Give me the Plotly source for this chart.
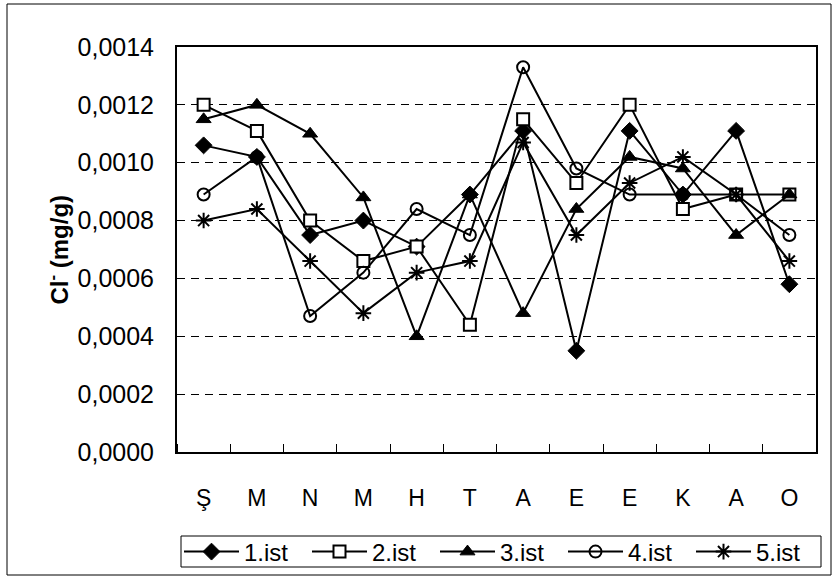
import plotly.graph_objects as go

months = ["Ş", "M", "N", "M", "H", "T", "A", "E", "E", "K", "A", "O"]
ist1 = [0.00106, 0.00102, 0.00075, 0.00080, 0.00071, 0.00089, 0.00111, 0.00035, 0.00111, 0.00089, 0.00111, 0.00058]
ist2 = [0.00120, 0.00111, 0.00080, 0.00066, 0.00071, 0.00044, 0.00115, 0.00093, 0.00120, 0.00084, 0.00089, 0.00089]
ist3 = [0.00115, 0.00120, 0.00110, 0.00088, 0.00040, 0.00089, 0.00048, 0.00084, 0.00102, 0.00098, 0.00075, 0.00089]
ist4 = [0.00089, 0.00102, 0.00047, 0.00062, 0.00084, 0.00075, 0.00133, 0.00098, 0.00089, 0.00089, 0.00089, 0.00075]
ist5 = [0.00080, 0.00084, 0.00066, 0.00048, 0.00062, 0.00066, 0.00107, 0.00075, 0.00093, 0.00102, 0.00089, 0.00066]
names = ["1.ist", "2.ist", "3.ist", "4.ist", "5.ist"]

x = list(range(len(months)))

W, H = 839, 579
L, R, T, B = 177, 816, 47, 452
pw, ph = R - L, B - T

def px(xp):
    return (xp - L) / pw

def py(yp):
    return (B - yp) / ph

styles = [
    dict(symbol="diamond", size=13, color="black", line=dict(color="black", width=1)),
    dict(symbol="square", size=12, color="white", line=dict(color="black", width=2)),
    dict(symbol="triangle-up", size=13, color="black", line=dict(color="black", width=1)),
    dict(symbol="circle-open", size=12, color="black", line=dict(color="black", width=2)),
    dict(symbol="asterisk-open", size=13, color="black", line=dict(color="black", width=2)),
]

fig = go.Figure()
for name, ys, st in zip(names, [ist1, ist2, ist3, ist4, ist5], styles):
    fig.add_trace(go.Scatter(
        x=x, y=ys, name=name, mode="lines+markers",
        line=dict(color="black", width=2),
        marker=st,
    ))

fig.update_layout(
    width=W, height=H,
    margin=dict(l=L, r=W - R, t=T, b=H - B, pad=0, autoexpand=False),
    paper_bgcolor="white", plot_bgcolor="white",
    separators=",.",
    font=dict(family="Liberation Sans, Arial, sans-serif", color="black", size=22),
    showlegend=True,
    legend=dict(
        orientation="h", xref="container", yref="container",
        x=179 / W, xanchor="left", y=1 - 552 / H, yanchor="middle",
        borderwidth=0, bgcolor="rgba(0,0,0,0)",
        font=dict(size=24), itemwidth=55, tracegroupgap=0,
        entrywidth=58, itemclick=False,
    ),
    xaxis=dict(
        range=[-0.5, len(months) - 0.5], automargin=False,
        tickmode="array", tickvals=x, ticktext=months, ticks="",
        ticklabelstandoff=24,
        showgrid=False, zeroline=False,
        showline=True, mirror=True, linecolor="black", linewidth=2,
        tickfont=dict(size=23),
        minor=dict(tick0=-0.5, dtick=1, ticks="inside", ticklen=8, tickcolor="black", tickwidth=1, showgrid=False),
    ),
    yaxis=dict(
        range=[0, 0.0014], dtick=0.0002, tick0=0, tickformat=".4f", automargin=False,
        ticks="", ticklabelstandoff=16,
        showgrid=True, gridcolor="black", gridwidth=1, griddash="8px,6px",
        zeroline=False,
        showline=True, mirror=True, linecolor="black", linewidth=2,
        tickfont=dict(size=25),
    ),
    annotations=[dict(
        text="<b>Cl<sup>-</sup> (mg/g)</b>", textangle=-90,
        xref="paper", yref="paper", x=px(57), y=0.5,
        xanchor="center", yanchor="middle", showarrow=False,
        font=dict(size=24),
    )],
    shapes=[
        dict(
            type="rect", xref="paper", yref="paper", layer="below",
            x0=px(7), x1=px(831), y0=py(575), y1=py(4),
            line=dict(color="black", width=1), fillcolor="rgba(0,0,0,0)",
        ),
        dict(
            type="rect", xref="paper", yref="paper", layer="below",
            x0=px(181), x1=px(821), y0=py(567), y1=py(536),
            line=dict(color="black", width=1), fillcolor="white",
        ),
    ],
)

fig.write_html("out.html")
